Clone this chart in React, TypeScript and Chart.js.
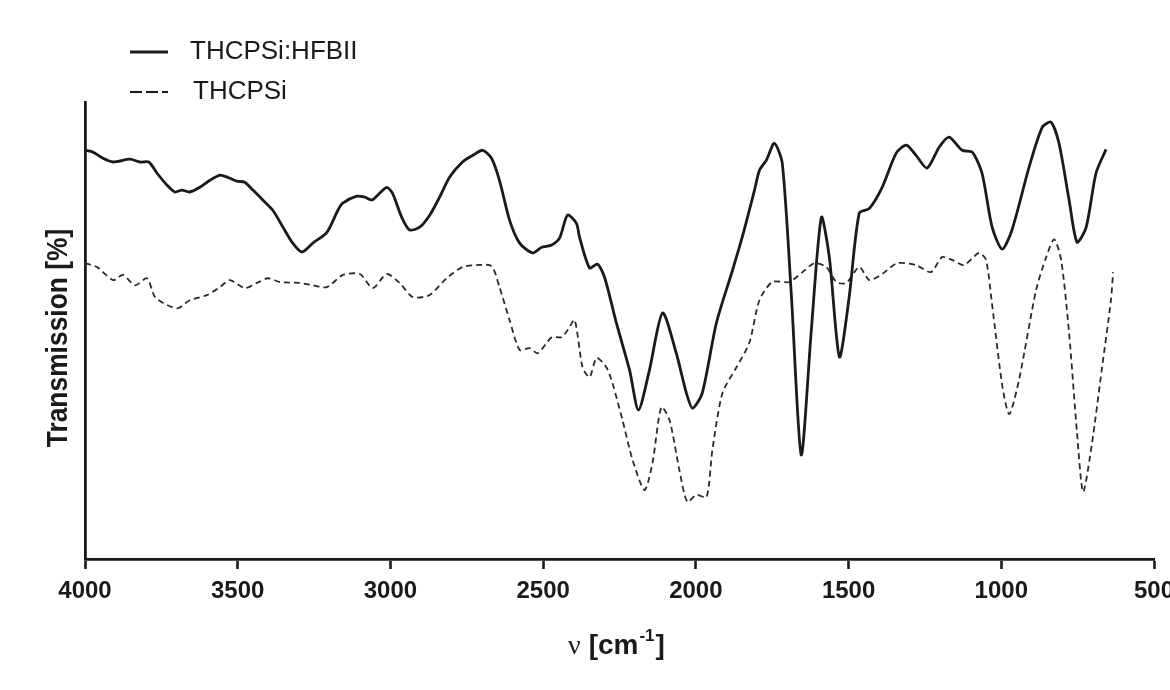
import { useEffect, useRef } from "react";
import { Chart, registerables } from "chart.js";

Chart.register(...registerables);

// x axis tick values (wavenumber, cm^-1)
const xTickValues = [4000, 3500, 3000, 2500, 2000, 1500, 1000, 500];
const seriesNames = ["THCPSi:HFBII", "THCPSi"];
const yAxisTitle = "Transmission [%]";
const xAxisSymbol = "ν";
const xAxisUnit = "[cm";
const xAxisExponent = "-1";
const xAxisClose = "]";

// THCPSi:HFBII (solid)
const hybridWavenumbers = [
  4000, 3974, 3941, 3908, 3853, 3820, 3791, 3764, 3732, 3706, 3683, 3657, 3624, 3591, 3558, 3532,
  3503, 3477, 3450, 3418, 3385, 3352, 3320, 3290, 3254, 3208, 3172, 3156, 3110, 3084, 3061, 3042,
  3012, 2993, 2963, 2937, 2904, 2871, 2839, 2806, 2764, 2731, 2698, 2669, 2643, 2610, 2577, 2535,
  2505, 2472, 2446, 2420, 2391, 2381, 2348, 2322, 2299, 2260, 2217, 2188, 2152, 2109, 2064, 2031,
  2011, 1979, 1933, 1880, 1848, 1808, 1792, 1769, 1743, 1717, 1687, 1655, 1622, 1589, 1563, 1530,
  1498, 1465, 1432, 1390, 1344, 1311, 1279, 1243, 1203, 1171, 1128, 1095, 1063, 1030, 997, 965,
  909, 866, 837, 811, 778, 752, 722, 690, 657,
];
const hybridTransmission = [
  85.7, 85.3, 84.0, 83.2, 83.8, 83.2, 83.2, 80.8, 78.3, 76.8, 77.2, 76.8, 77.8, 79.3, 80.4, 79.9,
  79.1, 78.9, 77.2, 75.1, 72.9, 69.3, 65.9, 64.0, 65.9, 68.2, 72.9, 74.4, 75.9, 75.7, 75.1, 76.1,
  77.8, 76.5, 71.4, 68.7, 69.3, 71.9, 75.7, 80.0, 83.2, 84.6, 85.7, 84.0, 79.3, 70.8, 65.9, 63.8,
  65.0, 65.5, 67.0, 71.9, 70.1, 67.2, 60.6, 61.4, 58.6, 48.8, 38.8, 30.3, 38.8, 51.0, 42.4, 33.9,
  30.7, 33.9, 48.8, 60.1, 67.2, 77.2, 81.4, 83.6, 87.2, 82.9, 54.4, 20.7, 47.3, 71.4, 62.9, 41.6,
  54.4, 72.3, 73.3, 77.8, 85.1, 86.8, 84.6, 81.9, 86.4, 88.5, 85.7, 85.3, 80.8, 69.3, 64.6, 68.7,
  82.1, 90.6, 91.7, 87.2, 75.1, 66.1, 69.3, 80.8, 85.9,
];

// THCPSi (dashed)
const bareWavenumbers = [
  4000, 3961, 3908, 3876, 3836, 3797, 3771, 3732, 3696, 3657, 3601, 3558, 3526, 3477, 3437, 3401,
  3362, 3297, 3254, 3208, 3156, 3100, 3058, 3012, 2970, 2927, 2872, 2816, 2764, 2718, 2669, 2643,
  2610, 2577, 2544, 2518, 2472, 2440, 2420, 2397, 2371, 2348, 2325, 2293, 2273, 2240, 2207, 2168,
  2142, 2113, 2086, 2054, 2028, 1998, 1965, 1946, 1913, 1867, 1825, 1792, 1750, 1694, 1651, 1612,
  1573, 1540, 1507, 1465, 1432, 1390, 1341, 1279, 1230, 1194, 1161, 1122, 1073, 1050, 1030, 997,
  974, 942, 886, 853, 827, 804, 778, 752, 732, 703, 670, 641, 634,
];
const bareTransmission = [
  61.6, 60.8, 58.0, 59.1, 56.9, 58.4, 54.4, 52.7, 52.0, 53.7, 54.8, 56.5, 58.0, 56.3, 57.4, 58.4,
  57.6, 57.4, 56.9, 56.5, 59.1, 59.3, 56.3, 59.3, 57.4, 54.4, 54.8, 58.4, 60.8, 61.2, 61.0, 56.5,
  49.5, 43.1, 43.5, 42.4, 45.8, 45.8, 47.3, 49.5, 39.4, 37.3, 41.4, 39.4, 36.0, 28.1, 19.6, 13.2,
  19.0, 30.9, 28.1, 17.5, 10.7, 12.2, 11.7, 21.7, 33.9, 39.4, 44.6, 53.7, 57.6, 57.6, 59.7, 61.6,
  60.8, 57.6, 57.4, 60.8, 58.0, 59.3, 61.6, 61.2, 59.7, 62.9, 62.3, 61.2, 63.8, 62.3, 52.7, 35.6,
  29.4, 36.7, 55.9, 62.9, 66.7, 62.3, 46.7, 25.4, 12.8, 23.2, 39.4, 53.7, 59.7,
];

const INK = "#1a1a1a";
const SANS = '"Liberation Sans", Arial, Helvetica, sans-serif';

const textPlugin = {
  id: "figureText",
  beforeDraw(chart: any) {
    const ctx = chart.ctx;
    ctx.save();
    ctx.fillStyle = "#ffffff";
    ctx.fillRect(0, 0, chart.width, chart.height);
    ctx.restore();
  },
  afterDraw(chart: any) {
    const ctx = chart.ctx as CanvasRenderingContext2D;
    ctx.save();
    ctx.fillStyle = INK;
    ctx.strokeStyle = INK;

    // legend
    ctx.font = `26px ${SANS}`;
    ctx.textBaseline = "middle";
    ctx.textAlign = "left";
    ctx.lineWidth = 2.8;
    ctx.setLineDash([]);
    ctx.beginPath();
    ctx.moveTo(130, 52);
    ctx.lineTo(168, 52);
    ctx.stroke();
    ctx.fillText(seriesNames[0], 190, 52);

    ctx.lineWidth = 2.2;
    ctx.setLineDash([12, 4]);
    ctx.beginPath();
    ctx.moveTo(130, 92);
    ctx.lineTo(168, 92);
    ctx.stroke();
    ctx.setLineDash([]);
    ctx.fillText(seriesNames[1], 193, 92);

    // y axis title
    ctx.save();
    ctx.translate(67, 338);
    ctx.rotate(-Math.PI / 2);
    ctx.scale(0.88, 1);
    ctx.font = `bold 30px ${SANS}`;
    ctx.textAlign = "center";
    ctx.textBaseline = "alphabetic";
    ctx.fillText(yAxisTitle, 0, 0);
    ctx.restore();

    // x axis title
    ctx.textBaseline = "alphabetic";
    ctx.textAlign = "left";
    const base = 654;
    let x = 568;
    ctx.font = `28px "Liberation Serif", "DejaVu Serif", serif`;
    ctx.fillText(xAxisSymbol, x, base);
    x += ctx.measureText(xAxisSymbol).width + 8;
    ctx.font = `bold 28px ${SANS}`;
    ctx.fillText(xAxisUnit, x, base);
    x += ctx.measureText(xAxisUnit).width + 1;
    ctx.font = `bold 17px ${SANS}`;
    ctx.fillText(xAxisExponent, x, base - 13);
    x += ctx.measureText(xAxisExponent).width + 1;
    ctx.font = `bold 28px ${SANS}`;
    ctx.fillText(xAxisClose, x, base);

    ctx.restore();
  },
};

export default function App() {
  const canvasRef = useRef<HTMLCanvasElement | null>(null);

  useEffect(() => {
    const canvas = canvasRef.current;
    if (!canvas) return;
    const hybrid = hybridWavenumbers.map((v, i) => ({ x: v, y: hybridTransmission[i] }));
    const bare = bareWavenumbers.map((v, i) => ({ x: v, y: bareTransmission[i] }));

    const chart = new Chart(canvas, {
      type: "line",
      data: {
        datasets: [
          {
            label: seriesNames[0],
            data: hybrid,
            borderColor: INK,
            borderWidth: 2.8,
            pointRadius: 0,
            tension: 0.25,
            fill: false,
          },
          {
            label: seriesNames[1],
            data: bare,
            borderColor: "#2a2a2a",
            borderWidth: 1.8,
            borderDash: [6, 4],
            pointRadius: 0,
            tension: 0.25,
            fill: false,
          },
        ],
      },
      options: {
        animation: false,
        responsive: false,
        devicePixelRatio: 1,
        layout: { padding: { top: 102, right: 16, left: 0, bottom: 0 } },
        plugins: {
          legend: { display: false },
          tooltip: { enabled: false },
          title: { display: false },
        },
        scales: {
          x: {
            type: "linear",
            reverse: true,
            min: 500,
            max: 4000,
            afterBuildTicks: (scale: any) => {
              scale.ticks = xTickValues.map((v) => ({ value: v }));
            },
            afterFit: (scale: any) => {
              scale.height = 131;
              scale.paddingLeft = 0;
              scale.paddingRight = 0;
            },
            ticks: {
              autoSkip: false,
              maxRotation: 0,
              padding: 8,
              color: INK,
              font: { family: SANS, size: 24, weight: "bold" },
              callback: (v: any) => String(v),
            },
            grid: {
              drawOnChartArea: false,
              drawTicks: true,
              tickLength: 10,
              tickWidth: 2.6,
              tickColor: INK,
            },
            border: { display: true, color: INK, width: 2.8 },
          },
          y: {
            type: "linear",
            min: -1.5,
            max: 96,
            afterFit: (scale: any) => {
              scale.width = 85;
            },
            ticks: { display: false },
            grid: { display: true, drawOnChartArea: false, drawTicks: false },
            border: { display: true, color: INK, width: 2.8 },
          },
        },
      },
      plugins: [textPlugin],
    });

    return () => chart.destroy();
  }, []);

  return (
    <div style={{ position: "absolute", left: 0, top: 0, width: 1170, height: 690, background: "#fff" }}>
      <canvas ref={canvasRef} width={1170} height={690} style={{ display: "block", width: 1170, height: 690 }} />
    </div>
  );
}
